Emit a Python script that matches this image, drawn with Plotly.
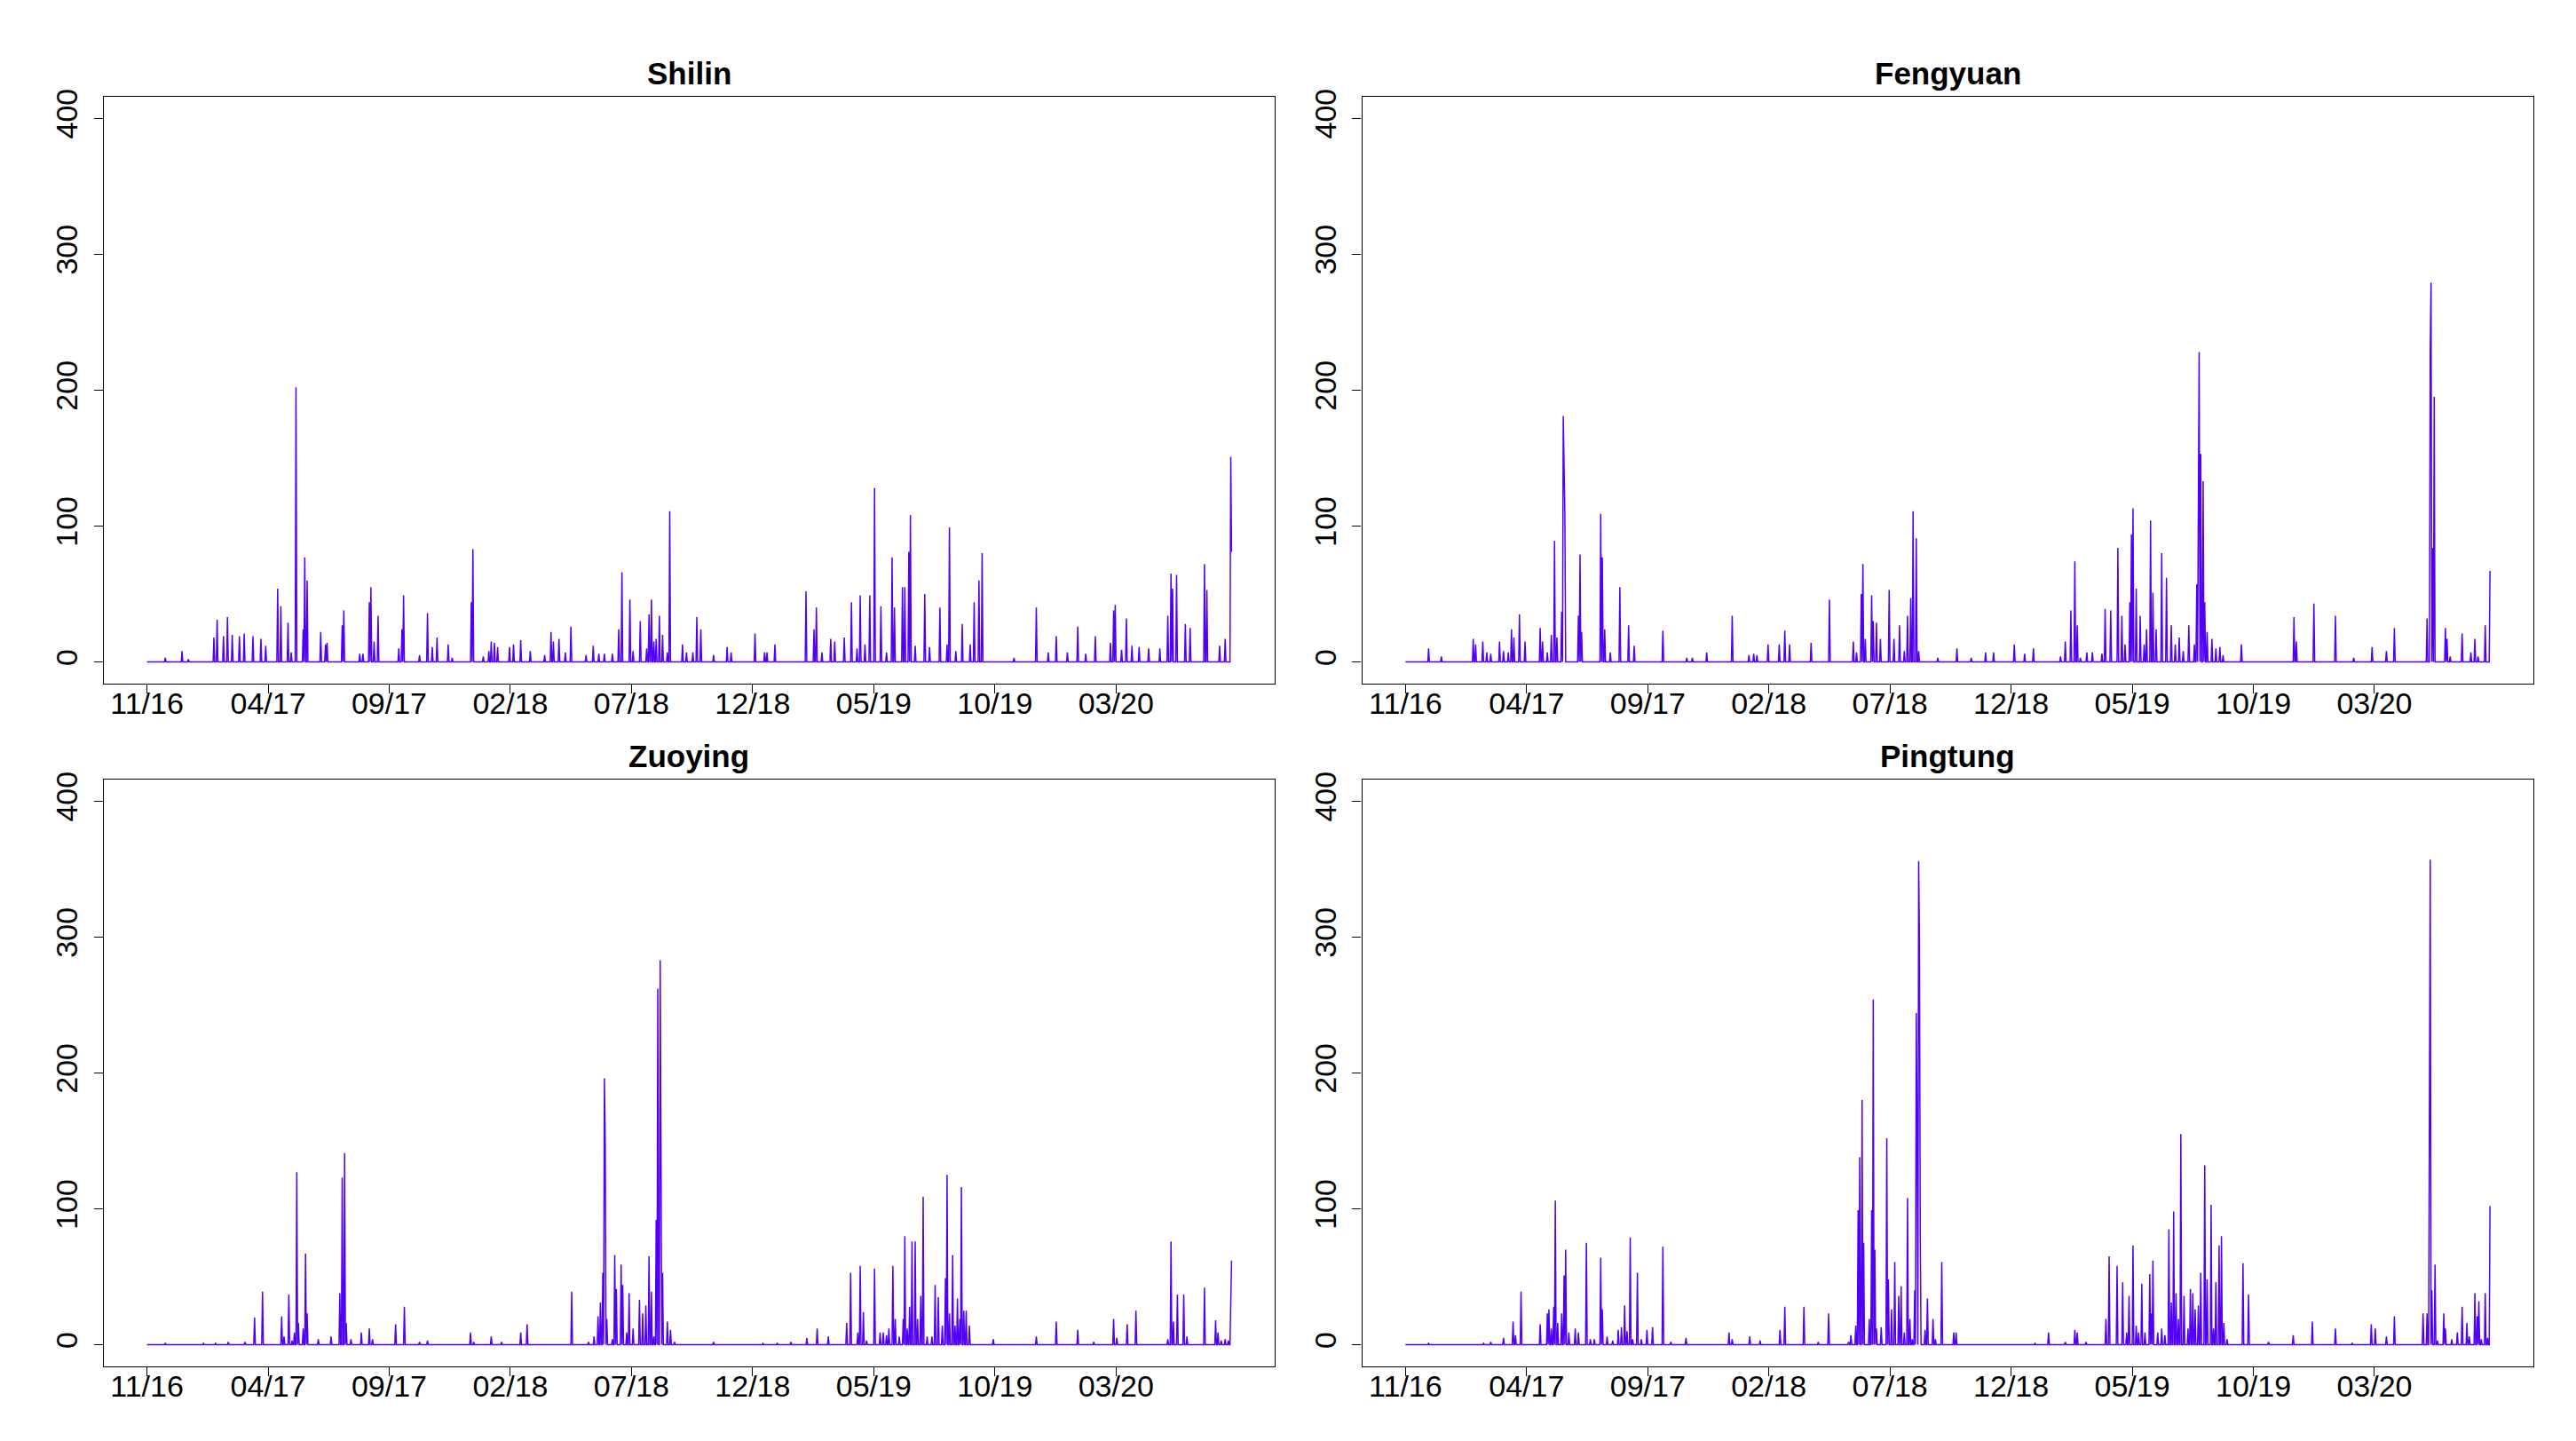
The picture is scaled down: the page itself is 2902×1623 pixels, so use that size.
import plotly.graph_objects as go

# ---- data ----
N_DAYS = 1362  # daily series starting 2016-11-01
tick_days = [0, 152, 304, 456, 608, 760, 912, 1064, 1216]
tick_labels = ["11/16", "04/17", "09/17", "02/18", "07/18", "12/18", "05/19", "10/19", "03/20"]
y_ticks = [0, 100, 200, 300, 400]

stations = ["Shilin", "Fengyuan", "Zuoying", "Pingtung"]

shilin_days = [23, 44, 52, 84, 88, 96, 101, 107, 116, 122, 133, 143, 149, 164, 168, 177, 181, 187, 196, 198, 201,
               218, 224, 226, 245, 247, 267, 271, 279, 281, 285, 290, 316, 320, 322, 342, 352, 358, 364, 378, 383,
               407, 409, 422, 429, 432, 436, 440, 455, 460, 469, 481, 499, 507, 510, 517, 525, 532, 551, 560, 567,
               574, 584, 592, 596, 606, 610, 619, 627, 630, 633, 636, 639, 643, 647, 653, 656, 672, 677, 685, 690,
               695, 711, 728, 733, 763, 775, 778, 788, 827, 837, 840, 847, 858, 863, 875, 884, 891, 895, 901, 907,
               913, 921, 928, 935, 938, 948, 951, 956, 958, 964, 976, 982, 995, 1004, 1007, 1015, 1023, 1033, 1038,
               1044, 1048, 1088, 1116, 1131, 1141, 1155, 1168, 1178, 1190, 1209, 1213, 1215, 1223, 1229, 1236, 1245,
               1257, 1271, 1281, 1285, 1287, 1292, 1303, 1309, 1327, 1330, 1346, 1353, 1360, 1361]
shilin_vals = [3, 8, 2, 18, 31, 19, 33, 20, 19, 21, 19, 17, 12, 54, 41, 29, 7, 202, 24, 77, 60,
               22, 13, 14, 27, 38, 6, 6, 44, 55, 15, 34, 10, 24, 49, 5, 36, 11, 18, 13, 3,
               44, 83, 4, 8, 15, 14, 11, 11, 13, 16, 8, 5, 22, 15, 17, 7, 26, 5, 12, 6,
               6, 6, 24, 66, 46, 8, 30, 10, 35, 46, 15, 17, 34, 20, 7, 111, 13, 7, 7, 33,
               24, 5, 11, 7, 21, 7, 7, 13, 52, 24, 40, 7, 17, 15, 18, 44, 10, 49, 13, 49,
               128, 41, 7, 77, 40, 55, 55, 81, 108, 12, 50, 11, 40, 13, 99, 8, 28, 13, 44,
               60, 80, 3, 40, 7, 19, 7, 26, 6, 19, 14, 38, 42, 9, 32, 12, 11,
               10, 10, 34, 65, 54, 64, 28, 25, 72, 53, 12, 17, 151, 81]

fengyuan_days = [29, 45, 85, 88, 97, 102, 107, 118, 123, 129, 133, 136, 143, 150, 169, 172, 178, 183, 187, 190,
                 196, 198, 199, 200, 217, 219, 221, 245, 247, 250, 257, 269, 280, 287, 323, 353, 360, 378, 410,
                 431, 437, 441, 455, 469, 476, 482, 509, 532, 562, 566, 572, 574, 577, 585, 587, 591, 596, 607,
                 613, 620, 626, 630, 634, 637, 641, 644, 668, 692, 710, 728, 738, 764, 777, 788, 822, 828, 835,
                 840, 843, 847, 855, 862, 874, 878, 885, 894, 899, 903, 909, 911, 913, 917, 922, 927, 930, 935,
                 938, 942, 949, 955, 961, 966, 971, 976, 983, 990, 993, 995, 996, 998, 1001, 1003, 1006, 1012,
                 1017, 1022, 1026, 1049, 1115, 1118, 1140, 1167, 1190, 1213, 1231, 1241, 1282, 1286, 1287, 1289,
                 1291, 1305, 1307, 1311, 1326, 1337, 1342, 1346, 1355, 1361]
fengyuan_vals = [10, 4, 17, 13, 15, 7, 6, 15, 8, 7, 24, 18, 35, 15, 25, 15, 7, 20, 89, 18,
                 37, 181, 137, 109, 34, 79, 22, 109, 77, 24, 7, 55, 27, 12, 23, 3, 3, 7, 34,
                 5, 6, 5, 13, 13, 23, 13, 14, 46, 15, 7, 50, 72, 17, 49, 30, 29, 17, 53,
                 17, 27, 8, 34, 47, 111, 91, 8, 3, 10, 3, 7, 7, 13, 6, 10, 4, 15, 38,
                 74, 27, 3, 7, 7, 6, 39, 38, 84, 34, 13, 44, 94, 113, 54, 34, 13, 24, 104,
                 51, 24, 80, 62, 27, 13, 18, 8, 27, 13, 57, 171, 228, 153, 133, 44, 22, 17,
                 10, 11, 5, 13, 33, 15, 43, 34, 3, 11, 8, 25, 32, 229, 279, 84,
                 195, 25, 17, 4, 21, 7, 17, 4, 27, 67]

zuoying_days = [23, 71, 86, 102, 123, 135, 145, 169, 172, 178, 182, 185, 188, 190, 196, 199, 201, 215, 231, 242,
                245, 248, 250, 256, 269, 279, 283, 312, 323, 342, 352, 406, 410, 432, 445, 469, 477, 533, 554,
                561, 566, 569, 572, 574, 575, 577, 584, 587, 589, 595, 597, 602, 605, 610, 618, 622, 626, 630,
                633, 636, 639, 641, 644, 645, 647, 653, 657, 662, 711, 773, 791, 808, 828, 841, 855, 878, 883,
                892, 895, 899, 903, 913, 920, 924, 928, 931, 936, 939, 944, 949, 951, 954, 957, 960, 964, 967,
                971, 974, 979, 985, 989, 993, 998, 1002, 1004, 1007, 1011, 1014, 1017, 1020, 1022, 1025, 1028,
                1032, 1062, 1116, 1141, 1168, 1188, 1213, 1217, 1230, 1241, 1281, 1285, 1288, 1293, 1301, 1305,
                1327, 1341, 1344, 1348, 1353, 1357, 1360, 1361]
zuoying_vals = [1, 1, 1, 2, 2, 20, 39, 21, 6, 37, 3, 9, 127, 16, 12, 67, 23, 4, 6, 38,
                123, 141, 16, 4, 9, 12, 4, 15, 28, 2, 3, 9, 2, 6, 2, 9, 15, 39, 2,
                6, 21, 31, 53, 196, 152, 19, 4, 66, 41, 59, 44, 9, 38, 12, 33, 23, 29, 65,
                39, 6, 92, 262, 283, 174, 53, 17, 11, 2, 2, 1, 1, 2, 5, 12, 6, 16, 53,
                9, 58, 24, 3, 56, 9, 9, 7, 12, 58, 19, 6, 19, 80, 12, 28, 76, 76, 19,
                36, 109, 6, 6, 44, 35, 14, 49, 125, 23, 66, 14, 34, 19, 116, 25, 25,
                14, 4, 6, 17, 11, 2, 19, 5, 15, 25, 4, 76, 17, 37, 37, 6,
                42, 18, 9, 3, 4, 3, 29, 62]

pingtung_days = [29, 98, 107, 123, 135, 138, 145, 169, 178, 180, 183, 186, 188, 191, 196, 199, 201, 205, 213, 217,
                 227, 232, 237, 245, 247, 253, 260, 267, 271, 275, 278, 282, 285, 291, 296, 303, 310, 323, 333,
                 352, 406, 410, 432, 445, 470, 476, 500, 518, 531, 556, 559, 565, 568, 570, 573, 575, 582, 585,
                 587, 589, 591, 597, 604, 606, 610, 614, 619, 622, 626, 630, 633, 636, 639, 641, 642, 644, 645,
                 646, 652, 655, 662, 665, 673, 688, 691, 790, 807, 828, 840, 843, 854, 879, 883, 893, 900, 905,
                 908, 913, 917, 920, 924, 928, 934, 936, 938, 944, 949, 953, 958, 961, 964, 967, 970, 973, 977,
                 982, 985, 988, 991, 995, 998, 1003, 1006, 1011, 1014, 1017, 1021, 1024, 1027, 1031, 1051, 1058,
                 1083, 1114, 1138, 1167, 1188, 1212, 1217, 1231, 1241, 1277, 1282, 1285, 1286, 1288, 1292, 1295,
                 1303, 1305, 1313, 1320, 1326, 1332, 1335, 1342, 1345, 1347, 1350, 1355, 1358, 1361]
pingtung_vals = [1, 1, 2, 5, 17, 7, 39, 15, 23, 26, 12, 28, 106, 16, 23, 51, 70, 9, 12, 9,
                 75, 4, 4, 64, 26, 6, 3, 11, 13, 29, 10, 79, 4, 53, 4, 11, 13, 72, 2,
                 5, 9, 4, 6, 3, 11, 28, 28, 2, 23, 2, 7, 14, 99, 138, 180, 75, 19, 99,
                 254, 70, 12, 13, 152, 48, 26, 61, 36, 43, 9, 108, 19, 4, 40, 244, 160, 356, 295,
                 80, 11, 34, 19, 4, 61, 9, 9, 1, 9, 2, 11, 9, 2, 19, 65, 58, 46, 9,
                 36, 73, 14, 9, 45, 9, 52, 23, 62, 9, 12, 7, 85, 31, 98, 38, 19, 155, 36,
                 12, 41, 38, 26, 29, 53, 132, 48, 103, 12, 46, 73, 80, 16, 4, 60, 37,
                 2, 7, 17, 12, 1, 15, 12, 6, 21, 23, 23, 289, 357, 40, 59, 3,
                 23, 12, 4, 9, 28, 16, 6, 38, 21, 32, 4, 38, 5, 102]

series = {
    "Shilin": (shilin_days, shilin_vals),
    "Fengyuan": (fengyuan_days, fengyuan_vals),
    "Zuoying": (zuoying_days, zuoying_vals),
    "Pingtung": (pingtung_days, pingtung_vals),
}

# ---- layout geometry ----
W, H = 2902, 1623
LINE_COLOR = "#5000f5"
FONT = "Liberation Sans, Arial, sans-serif"

x_doms = [(116.7 / W, 1436.3 / W), (1534.5 / W, 2854.0 / W)]
y_doms = [(1 - 765.3 / H, 1 - 100.3 / H), (1 - 1538.6 / H, 1 - 873.7 / H)]

pad = 0.04 * (N_DAYS - 1)
x_range = [-pad, (N_DAYS - 1) + pad]
y_range = [-16, 416]

fig = go.Figure()
annotations = []
layout_axes = {}

for i, name in enumerate(stations):
    days, vals = series[name]
    y = [0.0] * N_DAYS
    for d, v in zip(days, vals):
        y[d] = v
    idx = i + 1
    xa = "x" if idx == 1 else f"x{idx}"
    ya = "y" if idx == 1 else f"y{idx}"
    fig.add_trace(go.Scatter(
        x=list(range(N_DAYS)), y=y, mode="lines",
        line=dict(color=LINE_COLOR, width=1.5),
        xaxis=xa, yaxis=ya, showlegend=False, hoverinfo="x+y",
    ))
    row, col = divmod(i, 2)
    xd = x_doms[col]
    yd = y_doms[row]
    common = dict(showline=True, mirror=True, linecolor="black", linewidth=1.2,
                  ticks="outside", ticklen=10, tickwidth=1.2, tickcolor="black",
                  showgrid=False, zeroline=False,
                  tickfont=dict(family=FONT, size=34, color="black"))
    layout_axes["xaxis" if idx == 1 else f"xaxis{idx}"] = dict(
        domain=list(xd), anchor=ya, range=x_range,
        tickmode="array", tickvals=tick_days, ticktext=tick_labels,
        ticklabelstandoff=-18, **common)
    layout_axes["yaxis" if idx == 1 else f"yaxis{idx}"] = dict(
        domain=list(yd), anchor=xa, range=y_range,
        tickmode="array", tickvals=y_ticks, ticktext=[str(v) for v in y_ticks],
        tickangle=-90, ticklabelstandoff=5, **common)
    annotations.append(dict(
        text=f"<b>{name}</b>", x=(xd[0] + xd[1]) / 2, y=yd[1],
        xref="paper", yref="paper", xanchor="center", yanchor="bottom",
        showarrow=False, yshift=5,
        font=dict(family=FONT, size=35, color="black")))

fig.update_layout(
    width=W, height=H,
    margin=dict(l=0, r=0, t=0, b=0),
    paper_bgcolor="white", plot_bgcolor="white",
    annotations=annotations,
    **layout_axes,
)

fig.write_html("out.html", config={"displayModeBar": False},
               post_script="document.body.style.margin='0';")
